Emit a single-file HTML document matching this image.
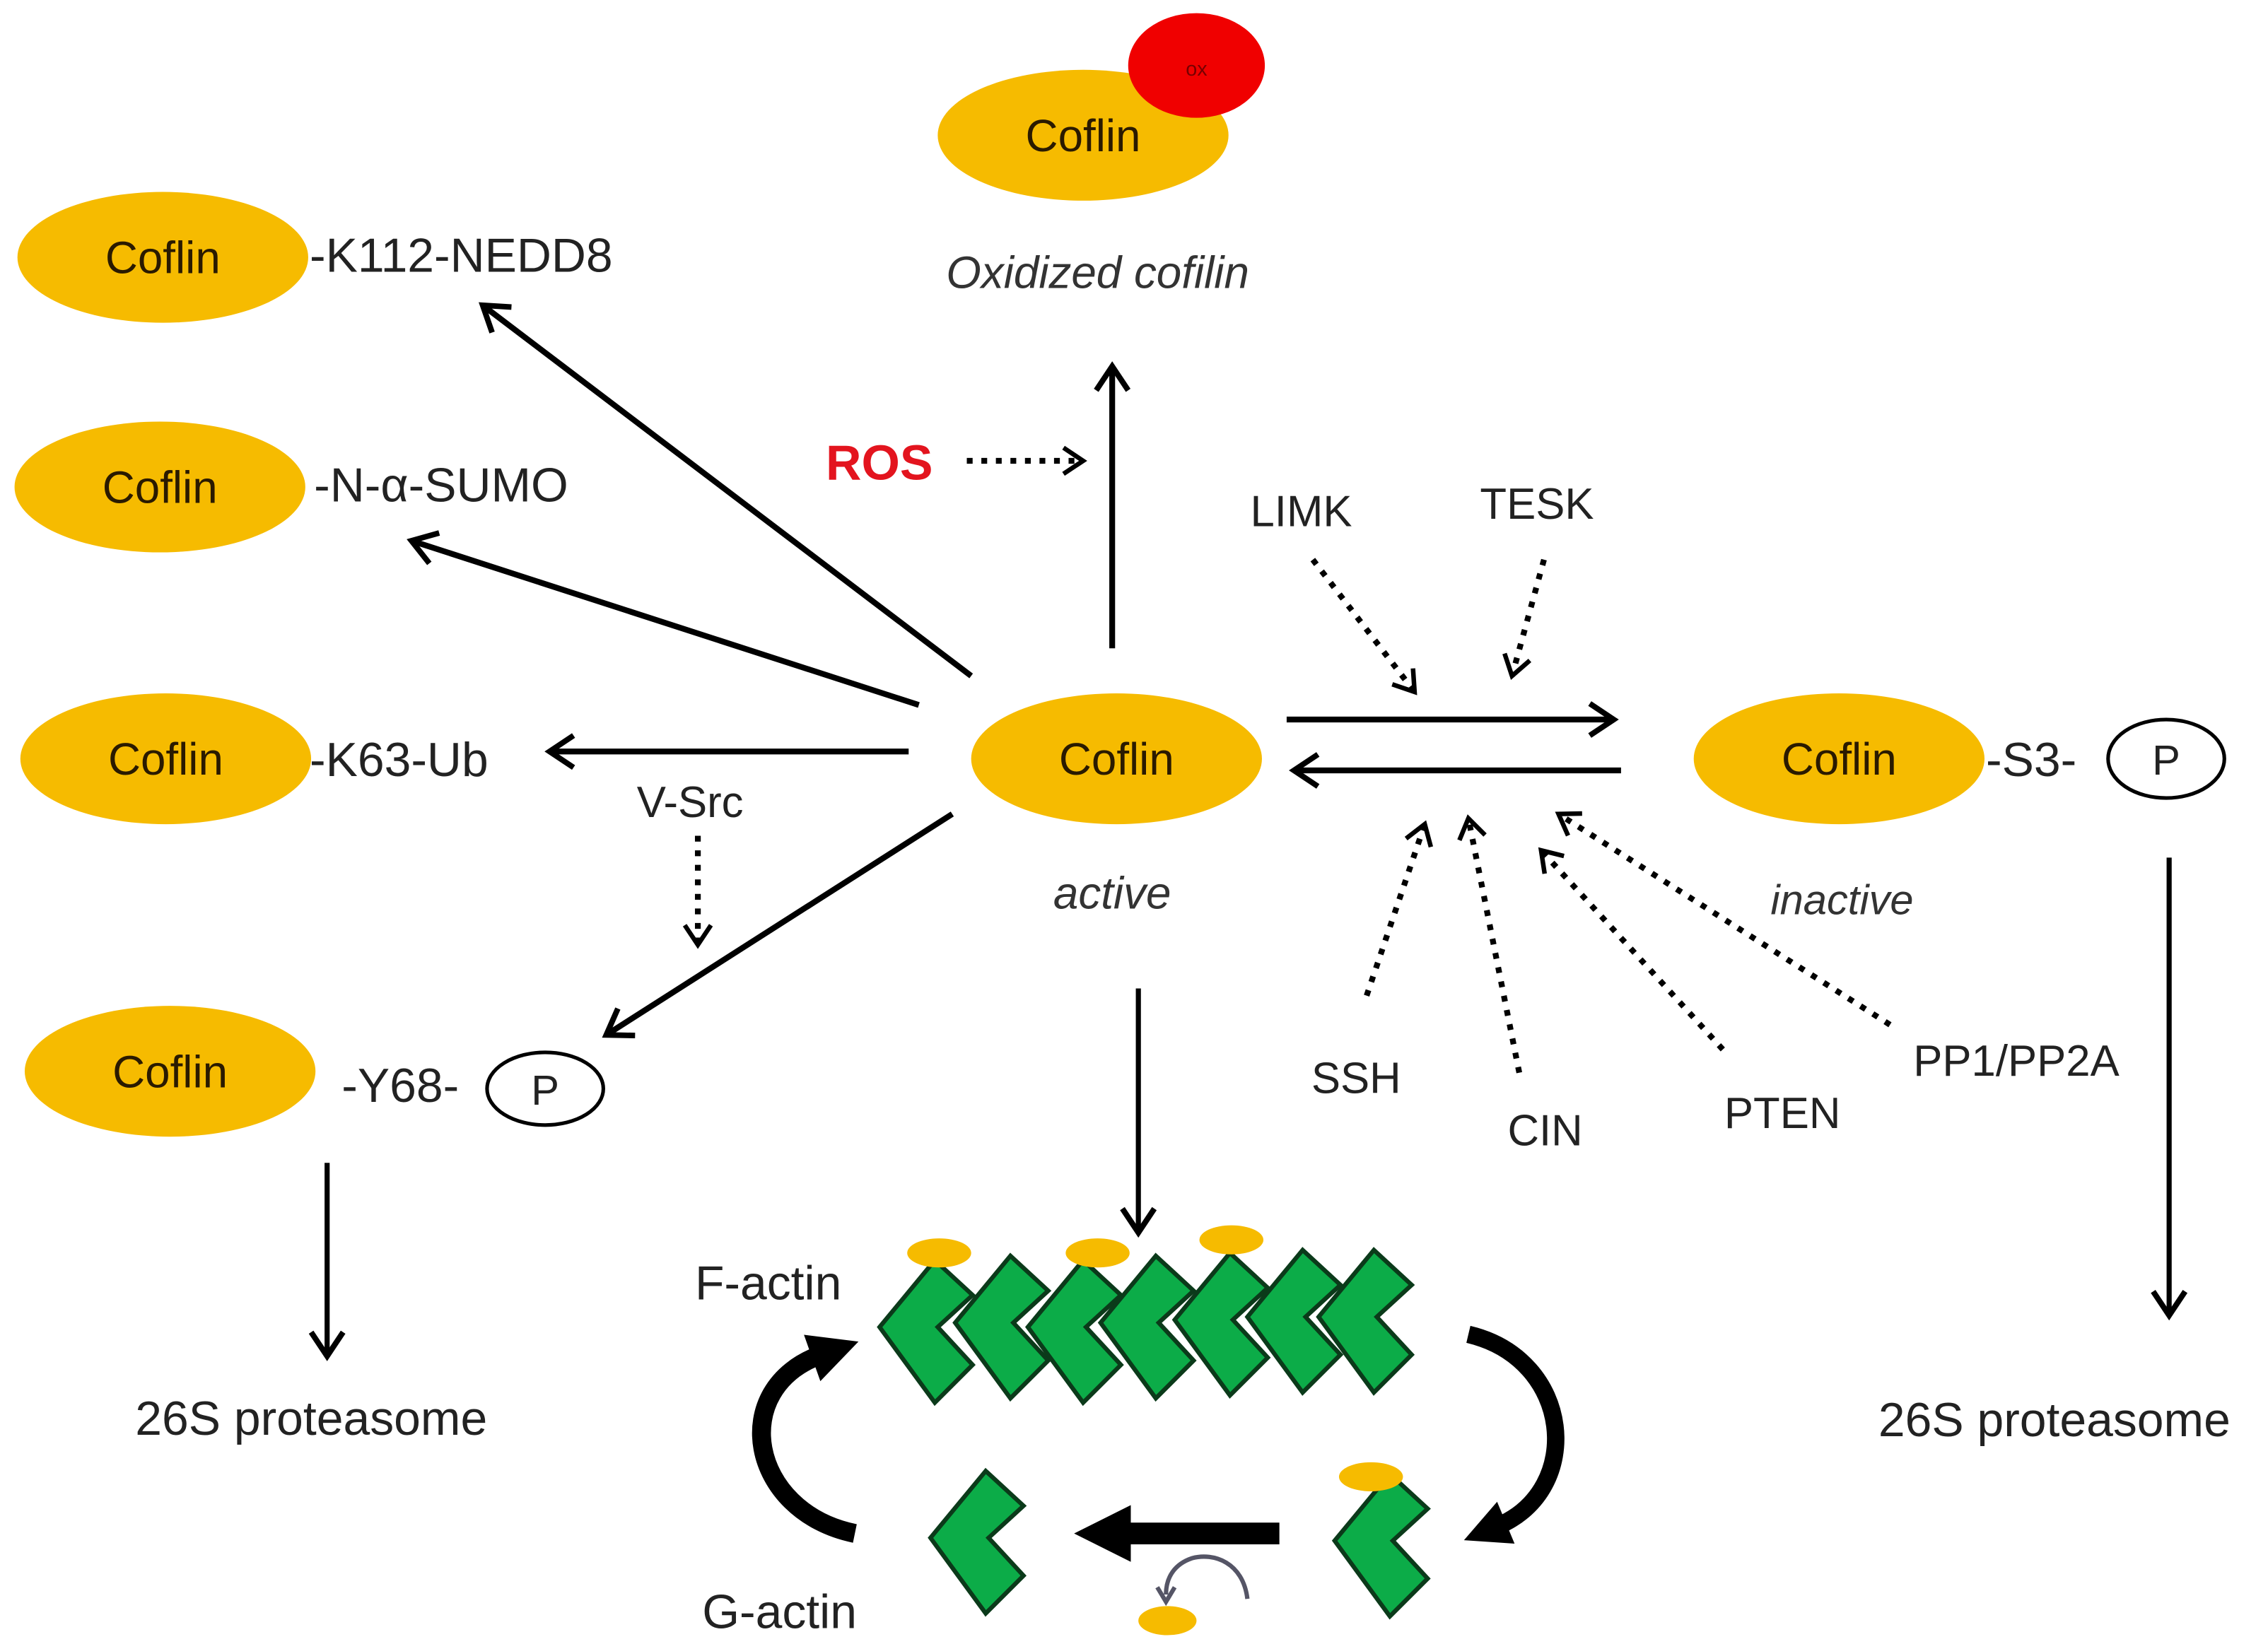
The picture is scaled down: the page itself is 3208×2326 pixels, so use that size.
<!DOCTYPE html>
<html><head><meta charset="utf-8"><style>
html,body{margin:0;padding:0;background:#fff;}
svg{display:block;}
text{font-family:"Liberation Sans",sans-serif;}
</style></head><body>
<svg width="3208" height="2326" viewBox="0 0 1560 1131" xmlns="http://www.w3.org/2000/svg">
<defs>
<marker id="ah" viewBox="0 0 20 20" refX="17" refY="10" markerWidth="22" markerHeight="22" markerUnits="userSpaceOnUse" orient="auto" overflow="visible">
<path d="M2,0 L17,10 L2,20" fill="none" stroke="#000" stroke-width="3.5"/>
</marker>
<marker id="dh" viewBox="0 0 20 20" refX="17" refY="10" markerWidth="18" markerHeight="18" markerUnits="userSpaceOnUse" orient="auto" overflow="visible">
<path d="M2,0 L17,10 L2,20" fill="none" stroke="#000" stroke-width="3.5"/>
</marker>
<marker id="fh" viewBox="0 0 10 10" refX="2" refY="5" markerWidth="2.6" markerHeight="2.6" orient="auto" overflow="visible">
<path d="M0,0 L10,5 L0,10 Z" fill="#000"/>
</marker>
<path id="chev" d="M0,0 L38,-46 L64,-22 L40,0 L64,26 L38,52 Z" fill="#0cac48" stroke="#0b3a1a" stroke-width="3" stroke-linejoin="miter"/>
</defs>
<g fill="#f6bb00">
<ellipse cx="745" cy="93" rx="100" ry="45"/>
<ellipse cx="112" cy="177" rx="100" ry="45"/>
<ellipse cx="110" cy="335" rx="100" ry="45"/>
<ellipse cx="114" cy="522" rx="100" ry="45"/>
<ellipse cx="117" cy="737" rx="100" ry="45"/>
<ellipse cx="768" cy="522" rx="100" ry="45"/>
<ellipse cx="1265" cy="522" rx="100" ry="45"/>
</g>
<ellipse cx="823" cy="45" rx="47" ry="36" fill="#f00000"/>
<text x="823" y="52" font-size="14" text-anchor="middle" fill="#700">ox</text>
<g font-size="31" fill="#2a1a00" text-anchor="middle">
<text x="745" y="104">Coflin</text>
<text x="112" y="188">Coflin</text>
<text x="110" y="346">Coflin</text>
<text x="114" y="533">Coflin</text>
<text x="117" y="748">Coflin</text>
<text x="768" y="533">Coflin</text>
<text x="1265" y="533">Coflin</text>
</g>
<g font-size="33" fill="#222">
<text x="213" y="187">-K112-NEDD8</text>
<text x="216" y="345">-N-α-SUMO</text>
<text x="213" y="534">-K63-Ub</text>
<text x="235" y="758">-Y68-</text>
<text x="1366" y="534">-S3-</text>
<text x="93" y="987">26S proteasome</text>
<text x="1292" y="988">26S proteasome</text>
<text x="478" y="894">F-actin</text>
<text x="483" y="1120">G-actin</text>
</g>
<g font-size="30" fill="#222">
<text x="438" y="562">V-Src</text>
<text x="860" y="362">LIMK</text>
<text x="1018" y="357">TESK</text>
<text x="902" y="752">SSH</text>
<text x="1037" y="788">CIN</text>
<text x="1186" y="776">PTEN</text>
<text x="1316" y="740">PP1/PP2A</text>
</g>
<g font-size="31" font-style="italic" fill="#333">
<text x="755" y="198" text-anchor="middle">Oxidized cofilin</text>
<text x="765" y="625" text-anchor="middle">active</text>
<text x="1267" y="629" text-anchor="middle" font-size="29">inactive</text>
</g>
<text x="568" y="330" font-size="34" font-weight="bold" fill="#e3141e">ROS</text>
<ellipse cx="375" cy="749" rx="40" ry="25" fill="none" stroke="#000" stroke-width="2.5"/>
<text x="375" y="760" font-size="29" text-anchor="middle" fill="#222">P</text>
<ellipse cx="1490" cy="522" rx="40" ry="27" fill="none" stroke="#000" stroke-width="2.5"/>
<text x="1490" y="533" font-size="29" text-anchor="middle" fill="#222">P</text>
<g stroke="#000" stroke-width="4" fill="none" marker-end="url(#ah)">
<line x1="668" y1="465" x2="332" y2="210"/>
<line x1="632" y1="485" x2="283" y2="372"/>
<line x1="625" y1="517" x2="378" y2="517"/>
<line x1="655" y1="560" x2="417" y2="712"/>
<line x1="765" y1="446" x2="765" y2="252"/>
<line x1="885" y1="495" x2="1110" y2="495"/>
<line x1="1115" y1="530" x2="890" y2="530"/>
<line x1="783" y1="680" x2="783" y2="848" stroke-width="3.5"/>
<line x1="225" y1="800" x2="225" y2="933" stroke-width="3.5"/>
<line x1="1492" y1="590" x2="1492" y2="905" stroke-width="3.5"/>
</g>
<g stroke="#000" stroke-width="4" fill="none" stroke-dasharray="4 6" marker-end="url(#dh)">
<line x1="665" y1="317" x2="745" y2="317"/>
<line x1="903" y1="385" x2="973" y2="476"/>
<line x1="1062" y1="385" x2="1040" y2="465"/>
<line x1="480" y1="575" x2="480" y2="650"/>
<line x1="940" y1="685" x2="980" y2="567"/>
<line x1="1045" y1="738" x2="1010" y2="563"/>
<line x1="1185" y1="722" x2="1060" y2="585"/>
<line x1="1300" y1="705" x2="1072" y2="560"/>
</g>
<g>
<use href="#chev" x="605" y="913"/>
<use href="#chev" x="657" y="910"/>
<use href="#chev" x="707" y="913"/>
<use href="#chev" x="757" y="910"/>
<use href="#chev" x="808" y="908"/>
<use href="#chev" x="858" y="906"/>
<use href="#chev" x="907" y="906"/>
<use href="#chev" x="640" y="1058"/>
<use href="#chev" x="918" y="1060"/>
</g>
<g fill="#f6bb00">
<ellipse cx="646" cy="862" rx="22" ry="10"/>
<ellipse cx="755" cy="862" rx="22" ry="10"/>
<ellipse cx="847" cy="853" rx="22" ry="10"/>
<ellipse cx="943" cy="1016" rx="22" ry="10"/>
<ellipse cx="803" cy="1115" rx="20" ry="10"/>
</g>
<path d="M588,1055 C515,1040 500,955 565,932" fill="none" stroke="#000" stroke-width="13" marker-end="url(#fh)"/>
<path d="M1010,918 C1082,935 1090,1025 1030,1050" fill="none" stroke="#000" stroke-width="12" marker-end="url(#fh)"/>
<line x1="880" y1="1055" x2="770" y2="1055" stroke="#000" stroke-width="15" marker-end="url(#fh)"/>
<path d="M858,1100 C855,1075 835,1068 820,1072 C808,1076 802,1085 802,1097" fill="none" stroke="#556" stroke-width="3"/>
<path d="M796,1092 L802,1102 L808,1092" fill="none" stroke="#556" stroke-width="3"/>
</svg>
</body></html>
